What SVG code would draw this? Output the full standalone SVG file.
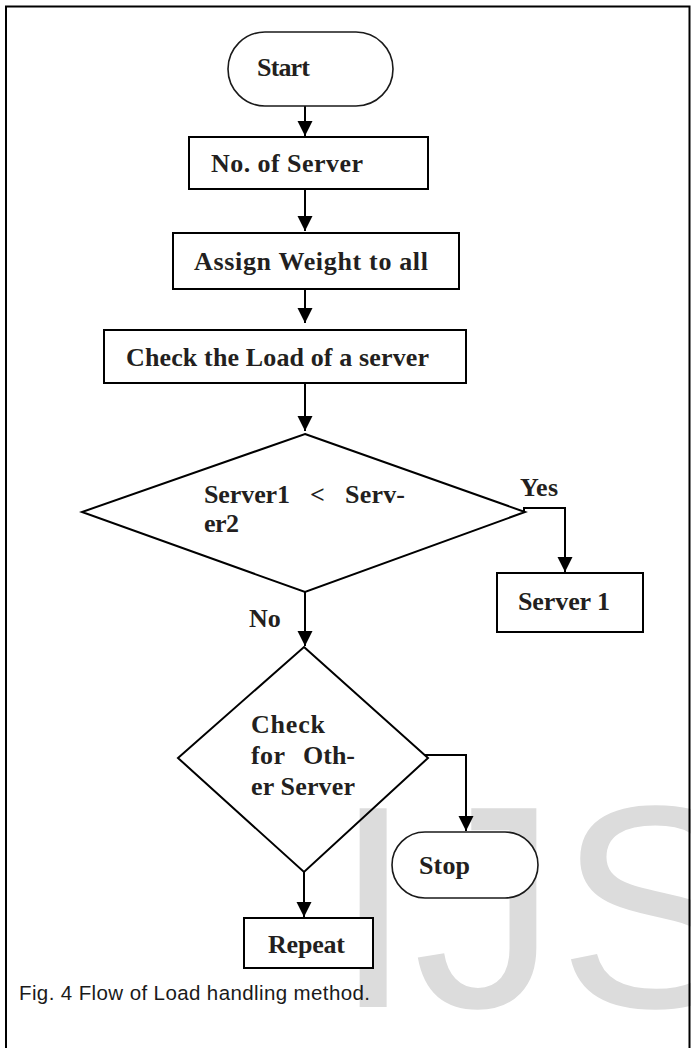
<svg xmlns="http://www.w3.org/2000/svg" width="691" height="1048" viewBox="0 0 691 1048">
<style>
.bg{fill:#ffffff}
.wm{font-family:"Liberation Sans",Arial,sans-serif;font-size:289px;fill:#dcdcdc}
.box{fill:#ffffff;stroke:#000;stroke-width:2}
.term{fill:#ffffff;stroke:#1a1a1a;stroke-width:1.6}
.dia{fill:none;stroke:#000;stroke-width:2}
.t{font-family:"Liberation Serif","Times New Roman",serif;font-weight:bold;font-size:26px;fill:#231f20}
.cap{font-family:"Liberation Sans",Arial,sans-serif;font-size:20.5px;fill:#1a1a1a}
.edge{fill:none;stroke:#000;stroke-width:2}
.frame{fill:none;stroke:#000;stroke-width:2}
</style>
<defs>
<marker id="ah" markerUnits="userSpaceOnUse" markerWidth="16" markerHeight="16" refX="15" refY="7.5" orient="auto">
<path d="M0,0 L15,7.5 L0,15 z" fill="#000"/>
</marker>
</defs>
<rect class="bg" x="0" y="0" width="691" height="1048"/>
<text class="wm" x="333" y="1007">IJS</text>
<path class="frame" d="M6,1048 V6.5 H689.5 V1048"/>

<g id="connectors">
<path class="edge" d="M305,106 V136" marker-end="url(#ah)"/>
<path class="edge" d="M305,189 V231" marker-end="url(#ah)"/>
<path class="edge" d="M305,289 V323" marker-end="url(#ah)"/>
<path class="edge" d="M305,383 V431" marker-end="url(#ah)"/>
<path class="edge" d="M524,512 V508 H565 V572" marker-end="url(#ah)"/>
<path class="edge" d="M305,592 V646" marker-end="url(#ah)"/>
<path class="edge" d="M424,755 H466 V831" marker-end="url(#ah)"/>
<path class="edge" d="M304,872 V917" marker-end="url(#ah)"/>
<text class="t" x="520" y="496" textLength="38">Yes</text>
<text class="t" x="249" y="627">No</text>
</g>

<g id="start">
<rect class="term" x="228" y="32" width="165" height="74" rx="37" ry="37"/>
<text class="t" x="257" y="76" textLength="53">Start</text>
</g>
<g id="no-of-server">
<rect class="box" x="189" y="137" width="239" height="52"/>
<text class="t" x="211" y="172" textLength="152">No. of Server</text>
</g>
<g id="assign-weight">
<rect class="box" x="173" y="233" width="286" height="56"/>
<text class="t" x="194" y="270" textLength="234">Assign Weight to all</text>
</g>
<g id="check-load">
<rect class="box" x="104" y="330" width="362" height="53"/>
<text class="t" x="126" y="366" textLength="303">Check the Load of a server</text>
</g>
<g id="decision-1">
<polygon class="dia" points="305,434 525,512 305,592 82,512"/>
<text class="t" x="204" y="503" textLength="86">Server1</text>
<text class="t" x="310" y="503">&lt;</text>
<text class="t" x="345" y="503" textLength="60">Serv-</text>
<text class="t" x="204" y="532" textLength="35">er2</text>
</g>
<g id="server-1">
<rect class="box" x="497" y="573" width="146" height="59"/>
<text class="t" x="518" y="610" textLength="92">Server 1</text>
</g>
<g id="decision-2">
<polygon class="dia" points="304,647 428,758 304,872 178,758"/>
<text class="t" x="251" y="733" textLength="74">Check</text>
<text class="t" x="251" y="764" textLength="34">for</text>
<text class="t" x="303" y="764" textLength="52">Oth-</text>
<text class="t" x="251" y="795" textLength="104">er Server</text>
</g>
<g id="stop">
<rect class="term" x="392" y="832" width="146" height="66" rx="33" ry="33"/>
<text class="t" x="419" y="874" textLength="51">Stop</text>
</g>
<g id="repeat">
<rect class="box" x="244" y="918" width="129" height="50"/>
<text class="t" x="268" y="953" textLength="77">Repeat</text>
</g>
<text class="cap" x="19" y="1000" textLength="351">Fig. 4 Flow of Load handling method.</text>
</svg>
